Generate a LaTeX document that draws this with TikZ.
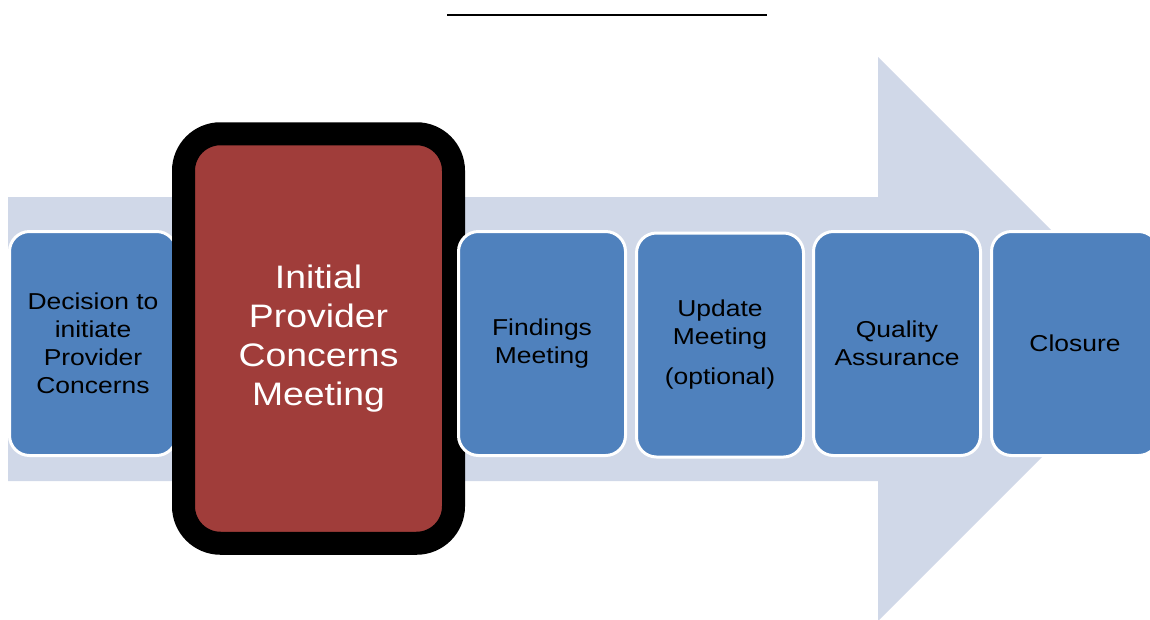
\documentclass[tikz,border=0pt]{standalone}
\usepackage{fontspec}
\setmainfont[FakeStretch=1.15]{Liberation Sans}
\definecolor{arrowfill}{HTML}{D0D8E8}
\definecolor{boxblue}{HTML}{4F81BD}
\definecolor{boxred}{HTML}{A03D3A}
\begin{document}
\begin{tikzpicture}[x=1pt,y=-1pt,
  stepbox/.style={fill=boxblue,draw=white,line width=3pt,rounded corners=20pt,
    minimum width=167pt,minimum height=224pt,inner sep=0pt,align=center,
    font=\fontsize{23}{28}\selectfont,text=black},
  keybox/.style={fill=boxred,draw=black,line width=23pt,rounded corners=37pt,
    minimum width=270pt,minimum height=409.5pt,inner sep=0pt,align=center,
    font=\fontsize{32.5}{39}\selectfont,text=white}]
\useasboundingbox (0,0) rectangle (1150,619);
\begin{scope}
\clip (0,0) rectangle (1150,619);
% big background arrow
\fill[arrowfill] (8,197) -- (878,197) -- (878,57) -- (1160,339) -- (878,621) -- (878,481) -- (8,481) -- cycle;
% top rule
\draw[line width=2pt,black] (447,15) -- (767,15);
\node[stepbox] (decision) at (93,343.5) {Decision to\\initiate\\Provider\\Concerns};
\node[keybox] (initial) at (318.5,338.5) {Initial\\Provider\\Concerns\\Meeting};
\node[stepbox] (findings) at (542,343.5) {Findings\\Meeting};
\node[stepbox] (update) at (720,345) {Update\\Meeting\\[12pt](optional)};
\node[stepbox] (quality) at (897,343.5) {Quality\\Assurance};
\node[stepbox] (closure) at (1075,343.5) {Closure};
\end{scope}
\end{tikzpicture}
\end{document}
